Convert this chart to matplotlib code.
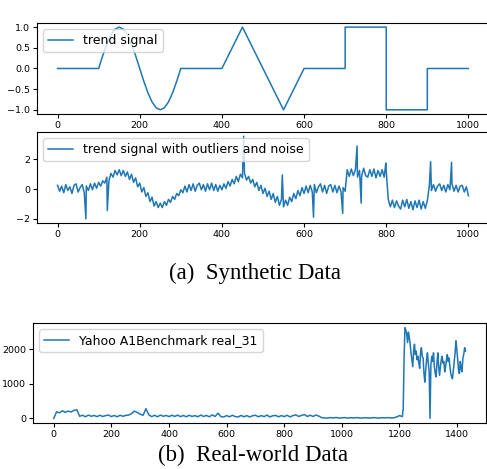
import numpy as np
import matplotlib
matplotlib.use("Agg")
import matplotlib.pyplot as plt

# clean trend signal (breakpoints)
trend_x = [0, 100, 110, 120, 130, 140, 150, 160, 170, 180, 190, 200,
           210, 220, 230, 240, 250, 260, 270, 280, 290, 300,
           400, 450, 550, 600, 700, 700, 800, 800, 900, 900, 1000]
trend_y = [0, 0, 0.31, 0.59, 0.81, 0.95, 1.0, 0.95, 0.81, 0.59, 0.31, 0,
           -0.31, -0.59, -0.81, -0.95, -1.0, -0.95, -0.81, -0.59, -0.31, 0,
           0, 1, -1, 0, 0, 1, 1, -1, -1, 0, 0]

# noisy signal, one value every 5 samples
noisy_y = [
    0.25, -0.15, 0.20, -0.25, 0.30, -0.10, 0.15, -0.30, 0.25, 0.35, -0.20,
    0.10, 0.30, -0.25, 0.20, -0.10, 0.35, -0.05, 0.40, 0.05, 0.45,
    0.20, 0.55, 0.40, 0.80, 0.55, 1.05, 0.80, 1.25, 0.95, 1.30,
    0.90, 1.25, 0.85, 1.15, 0.65, 1.00, 0.45, 0.75, 0.15, 0.40,
    -0.20, 0.10, -0.50, -0.25, -0.85, -0.55, -1.15, -0.85, -1.25, -0.95,
    -1.25, -0.85, -1.10, -0.70, -0.90, -0.50, -0.70, -0.30, -0.45, -0.05,
    -0.25, 0.20, -0.20, 0.30, -0.10, 0.35, -0.15, 0.25, 0.40, -0.05,
    0.30, -0.15, 0.35, -0.05, 0.40, -0.10, 0.30, -0.15, 0.25, -0.05,
    0.35, 0.05, 0.50, 0.20, 0.65, 0.35, 0.85, 0.50, 1.00, 0.75,
    1.05, 0.60, 0.85, 0.40, 0.65, 0.15, 0.45, -0.10, 0.25, -0.30,
    0.05, -0.50, -0.15, -0.70, -0.30, -0.90, -0.50, -1.10, -0.70, -1.20,
    -0.75, -1.10, -0.55, -0.85, -0.30, -0.65, -0.10, -0.45, 0.10, -0.30,
    0.20, -0.25, 0.25, -0.20, 0.30, -0.25, 0.15, 0.35, -0.20, 0.25,
    -0.30, 0.20, 0.30, -0.20, 0.25, -0.25, 0.20, -0.20, 0.10, -0.15,
    1.30, 0.85, 1.35, 0.90, 1.30, 0.80, 1.25, 0.85, 1.40, 0.90,
    0.80, 1.30, 0.85, 1.35, 0.75, 1.25, 0.85, 1.30, 0.80, 1.20,
    -0.70, -1.20, -0.75, -1.25, -0.80, -1.15, -1.35, -0.75, -1.20, -0.70,
    -1.30, -0.85, -1.40, -0.80, -1.25, -0.75, -1.35, -0.85, -1.30, -0.80,
    0.25, -0.10, 0.30, -0.15, 0.20, 0.35, -0.10, 0.25, -0.20, 0.30,
    -0.05, 0.35, -0.15, 0.25, -0.20, 0.20, 0.25, -0.20, 0.15, -0.45,
]
outlier_x = [69, 121, 453, 547, 623, 694, 729, 739, 799, 908, 959]
outlier_y = [-2.01, -1.45, 3.56, 0.95, -1.9, -1.65, 2.9, -0.95, 1.75, 1.85, 1.8]

# Yahoo A1Benchmark real_31: low part every 10 samples, burst every 3
yahoo_low = [
    0, 190, 160, 220, 175, 210, 185, 230, 250, 60,
    90, 45, 95, 60, 85, 50, 90, 55, 80, 95,
    50, 85, 45, 90, 60, 85, 95, 140, 210, 170,
    120, 90, 280, 100, 50, 90, 45, 95, 60, 85,
    50, 90, 55, 95, 50, 85, 45, 90, 55, 80,
    45, 95, 55, 85, 45, 100, 55, 150, 50, 40,
    80, 45, 90, 50, 40, 85, 45, 80, 40, 75,
    90, 45, 80, 50, 95, 40, 75, 85, 45, 80,
    50, 90, 40, 80, 100, 55, 85, 110, 55, 90,
    55, 95, 65, 20, 12, 8, 22, 12, 25, 8,
    15, 22, 8, 20, 10, 22, 12, 8, 20, 12,
    10, 22, 12, 8, 20, 12, 22, 10, 16, 40,
    80, 50,
]
yahoo_high = [
    300, 1800, 2630, 2560, 2450, 2200, 2500, 2350, 2150, 1900,
    1700, 1500, 1950, 2150, 1850, 1950, 1700, 1800, 1600, 1450,
    1900, 2050, 1800, 1750, 1300, 1050, 1400, 1700, 1900, 1600,
    1350, 0, 1550, 1800, 1650, 1900, 1500, 1300, 1200, 1600,
    1900, 1500, 1250, 1500, 1700, 1800, 1600, 1650, 1350, 1500,
    1700, 1850, 1650, 1750, 1500, 1300, 1200, 1150, 1400, 1650,
    1900, 2250, 2000, 1700, 1400, 1300, 1650, 1450, 1350, 1750,
    1850, 2050, 1950,
]

plt.rcParams['xtick.labelsize'] = 6.8
plt.rcParams['ytick.labelsize'] = 6.8
plt.rcParams['legend.fontsize'] = 9

line_color = '#1f77b4'

fig = plt.figure(figsize=(4.87, 4.69), dpi=100)

# (a) top: clean trend
ax1 = fig.add_axes([0.076, 0.757, 0.928, 0.194])
ax1.plot(trend_x, trend_y, color=line_color, lw=1.1, label='trend signal')
ax1.set_xlim(-50, 1050)
ax1.set_ylim(-1.1, 1.1)
ax1.set_yticks([-1.0, -0.5, 0.0, 0.5, 1.0])
ax1.set_xticks([0, 200, 400, 600, 800, 1000])
ax1.legend(loc='upper left')

# (a) middle: trend with outliers and noise
noisy_x = list(np.arange(0, 5 * len(noisy_y), 5))
pts = sorted(zip(noisy_x + outlier_x, noisy_y + outlier_y))
nx = [p[0] for p in pts]
ny = [p[1] for p in pts]
ax2 = fig.add_axes([0.076, 0.5245, 0.928, 0.194])
ax2.plot(nx, ny, color=line_color, lw=1.1,
         label='trend signal with outliers and noise')
ax2.set_xlim(-50, 1050)
ax2.set_ylim(-2.29, 3.84)
ax2.set_yticks([-2, 0, 2])
ax2.set_xticks([0, 200, 400, 600, 800, 1000])
ax2.legend(loc='upper left')

# (b) real-world data
yx = list(np.arange(0, 10 * len(yahoo_low), 10)) + \
     list(np.arange(1213, 1213 + 3 * len(yahoo_high), 3))
yv = yahoo_low + yahoo_high
ax3 = fig.add_axes([0.0678, 0.098, 0.930, 0.213])
ax3.plot(yx, yv, color=line_color, lw=1.1, label='Yahoo A1Benchmark real_31')
ax3.set_xlim(-72, 1500)
ax3.set_ylim(-136, 2762)
ax3.set_yticks([0, 1000, 2000])
ax3.set_xticks([0, 200, 400, 600, 800, 1000, 1200, 1400])
ax3.legend(loc='upper left')

for ax in (ax1, ax2, ax3):
    ax.tick_params(length=3, width=0.8, pad=2)

fig.text(255 / 487, 1 - 273 / 469, '(a)  Synthetic Data', ha='center',
         va='center', family='Liberation Serif', fontsize=16.5)
fig.text(253 / 487, 1 - 455 / 469, '(b)  Real-world Data', ha='center',
         va='center', family='Liberation Serif', fontsize=16.5)

fig.savefig('out.png', dpi=100)
